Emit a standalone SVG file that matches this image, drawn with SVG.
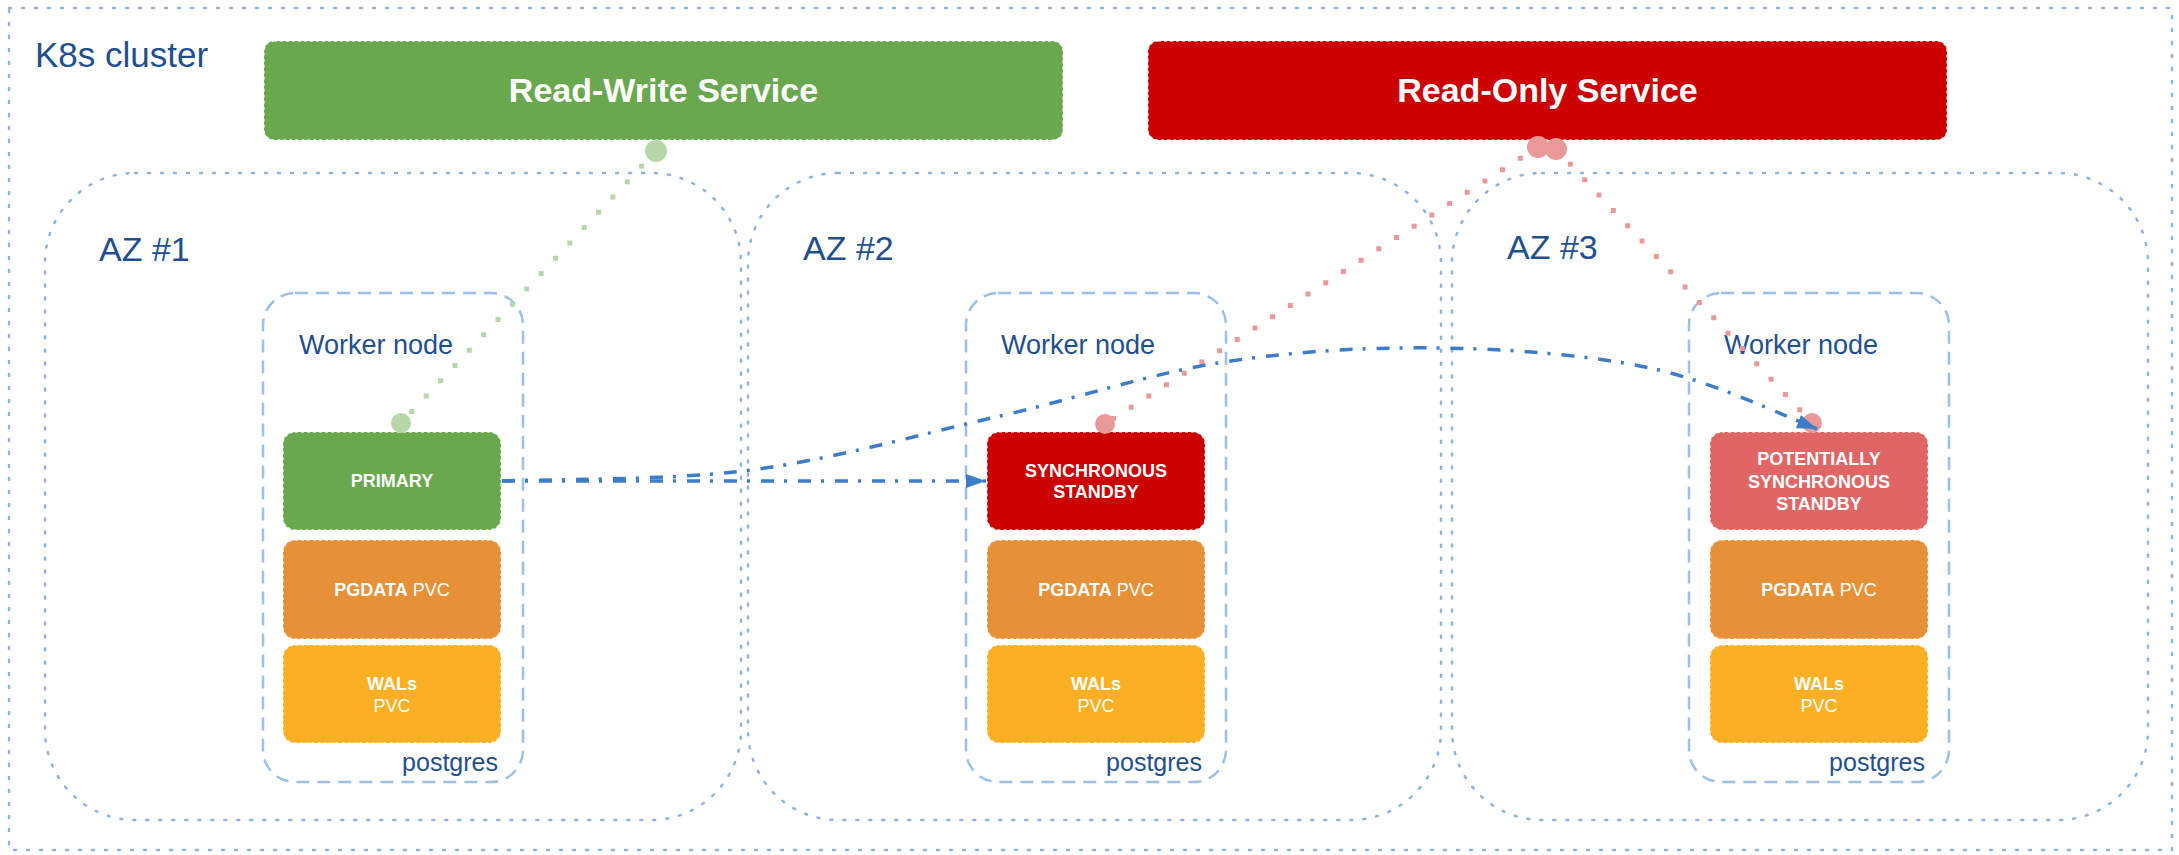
<svg xmlns="http://www.w3.org/2000/svg" width="2179" height="855" viewBox="0 0 2179 855">
  <style>
    text { font-family: "Liberation Sans", Arial, sans-serif; }
    .lbl { fill: #1f4f8f; }
    .cluster { fill: none; stroke: #8fb3dc; stroke-width: 2.5; stroke-dasharray: 2 11; stroke-linecap: round; }
    .az { fill: none; stroke: #8fb3dc; stroke-width: 2.5; stroke-dasharray: 2 11; stroke-linecap: round; }
    .worker { fill: none; stroke: #9cc0e6; stroke-width: 2.5; stroke-dasharray: 13 8; }
    .box { stroke: #ffffff; stroke-opacity: 0.75; stroke-width: 1.5; stroke-dasharray: 3 3; }
    .svc { font-size: 34px; font-weight: bold; fill: #ffffff; }
    .in { font-size: 18px; fill: #ffffff; text-anchor: middle; }
    .b { font-weight: bold; }
    .repl { fill: none; stroke: #3d7cc9; stroke-width: 3.5; stroke-dasharray: 13 10 3 11; }
    .rw { fill: none; stroke: #b6d7a8; stroke-width: 5; stroke-dasharray: 0 21; stroke-linecap: square; }
    .ro { fill: none; stroke: #ea9999; stroke-width: 5; stroke-dasharray: 0 21; stroke-linecap: square; }
  </style>
  <defs>
    <marker id="arrow" viewBox="0 0 20 14" refX="20" refY="7" markerWidth="20" markerHeight="14" markerUnits="userSpaceOnUse" orient="auto">
      <path d="M0,0 L20,7 L0,14 z" fill="#3d7cc9"/>
    </marker>
  </defs>

  <rect width="2179" height="855" fill="#ffffff"/>

  <!-- Kubernetes cluster boundary -->
  <g id="k8s-cluster">
    <rect class="cluster" x="9" y="8" width="2163" height="842"/>
    <text class="lbl" x="35" y="67" font-size="35">K8s cluster</text>
  </g>

  <!-- Services -->
  <g id="read-write-service">
    <rect class="box" x="264" y="41" width="799" height="99" rx="10" fill="#6aa84f"/>
    <text class="svc" x="663.5" y="102" text-anchor="middle">Read-Write Service</text>
  </g>
  <g id="read-only-service">
    <rect class="box" x="1148" y="41" width="799" height="99" rx="10" fill="#cc0000"/>
    <text class="svc" x="1547.5" y="102" text-anchor="middle">Read-Only Service</text>
  </g>

  <!-- Availability zones -->
  <g id="az1">
    <rect class="az" x="45" y="173" width="696" height="647" rx="90"/>
    <text class="lbl" x="99" y="261" font-size="34">AZ #1</text>
  </g>
  <g id="az2">
    <rect class="az" x="748" y="173" width="693" height="647" rx="90"/>
    <text class="lbl" x="803" y="260" font-size="34">AZ #2</text>
  </g>
  <g id="az3">
    <rect class="az" x="1452" y="173" width="696" height="647" rx="90"/>
    <text class="lbl" x="1507" y="259" font-size="34">AZ #3</text>
  </g>

  <!-- Worker nodes -->
  <g id="worker1">
    <rect class="worker" x="263" y="293" width="260" height="489" rx="32"/>
    <text class="lbl" x="299" y="354" font-size="27">Worker node</text>
    <text class="lbl" x="498" y="771" font-size="25" text-anchor="end">postgres</text>
  </g>
  <g id="worker2">
    <rect class="worker" x="966" y="293" width="260" height="489" rx="32"/>
    <text class="lbl" x="1001" y="354" font-size="27">Worker node</text>
    <text class="lbl" x="1202" y="771" font-size="25" text-anchor="end">postgres</text>
  </g>
  <g id="worker3">
    <rect class="worker" x="1689" y="293" width="260" height="489" rx="32"/>
    <text class="lbl" x="1724" y="354" font-size="27">Worker node</text>
    <text class="lbl" x="1925" y="771" font-size="25" text-anchor="end">postgres</text>
  </g>

  <!-- AZ #1 instance -->
  <g id="primary">
    <rect class="box" x="283" y="432" width="218" height="98" rx="12" fill="#6aa84f"/>
    <text class="in b" x="392" y="487">PRIMARY</text>
  </g>
  <g id="pgdata1">
    <rect class="box" x="283" y="540" width="218" height="99" rx="12" fill="#e69138"/>
    <text class="in" x="392" y="596"><tspan class="b">PGDATA</tspan> PVC</text>
  </g>
  <g id="wals1">
    <rect class="box" x="283" y="645" width="218" height="98" rx="12" fill="#fbb023"/>
    <text class="in" x="392" y="690"><tspan class="b">WALs</tspan><tspan x="392" dy="22">PVC</tspan></text>
  </g>

  <!-- AZ #2 instance -->
  <g id="sync-standby">
    <rect class="box" x="987" y="432" width="218" height="98" rx="12" fill="#cc0000"/>
    <text class="in b" x="1096" y="477">SYNCHRONOUS<tspan x="1096" dy="21">STANDBY</tspan></text>
  </g>
  <g id="pgdata2">
    <rect class="box" x="987" y="540" width="218" height="99" rx="12" fill="#e69138"/>
    <text class="in" x="1096" y="596"><tspan class="b">PGDATA</tspan> PVC</text>
  </g>
  <g id="wals2">
    <rect class="box" x="987" y="645" width="218" height="98" rx="12" fill="#fbb023"/>
    <text class="in" x="1096" y="690"><tspan class="b">WALs</tspan><tspan x="1096" dy="22">PVC</tspan></text>
  </g>

  <!-- AZ #3 instance -->
  <g id="potential-standby">
    <rect class="box" x="1710" y="432" width="218" height="98" rx="12" fill="#e06666"/>
    <text class="in b" x="1819" y="465">POTENTIALLY<tspan x="1819" dy="22.5">SYNCHRONOUS</tspan><tspan x="1819" dy="22.5">STANDBY</tspan></text>
  </g>
  <g id="pgdata3">
    <rect class="box" x="1710" y="540" width="218" height="99" rx="12" fill="#e69138"/>
    <text class="in" x="1819" y="596"><tspan class="b">PGDATA</tspan> PVC</text>
  </g>
  <g id="wals3">
    <rect class="box" x="1710" y="645" width="218" height="98" rx="12" fill="#fbb023"/>
    <text class="in" x="1819" y="690"><tspan class="b">WALs</tspan><tspan x="1819" dy="22">PVC</tspan></text>
  </g>

  <!-- Connectors -->
  <g id="connectors">
    <!-- read-write service to primary -->
    <path class="rw" d="M656,151 L401,423"/>
    <circle cx="656" cy="151" r="11" fill="#b6d7a8"/>
    <circle cx="401" cy="423" r="10" fill="#b6d7a8"/>

    <!-- read-only service to standbys -->
    <path class="ro" d="M1538,147 L1105,424"/>
    <path class="ro" d="M1556,149 L1812,423"/>
    <circle cx="1538" cy="147" r="11" fill="#ea9999"/>
    <circle cx="1556" cy="149" r="11" fill="#ea9999"/>
    <circle cx="1105" cy="424" r="10" fill="#ea9999"/>
    <circle cx="1812" cy="423" r="10" fill="#ea9999"/>

    <!-- streaming replication -->
    <path class="repl" d="M502,481 L986,481" marker-end="url(#arrow)"/>
    <path class="repl" d="M502,481 C543.5,479.2 668,480.8 751,470 C834,459.2 921.2,434 1000,416 C1078.8,398 1150.5,373.3 1224,362 C1297.5,350.7 1370,347 1441,348 C1512,349 1588.2,355 1650,368 C1711.8,381 1785,416.3 1817,429" marker-end="url(#arrow)"/>
  </g>
</svg>
